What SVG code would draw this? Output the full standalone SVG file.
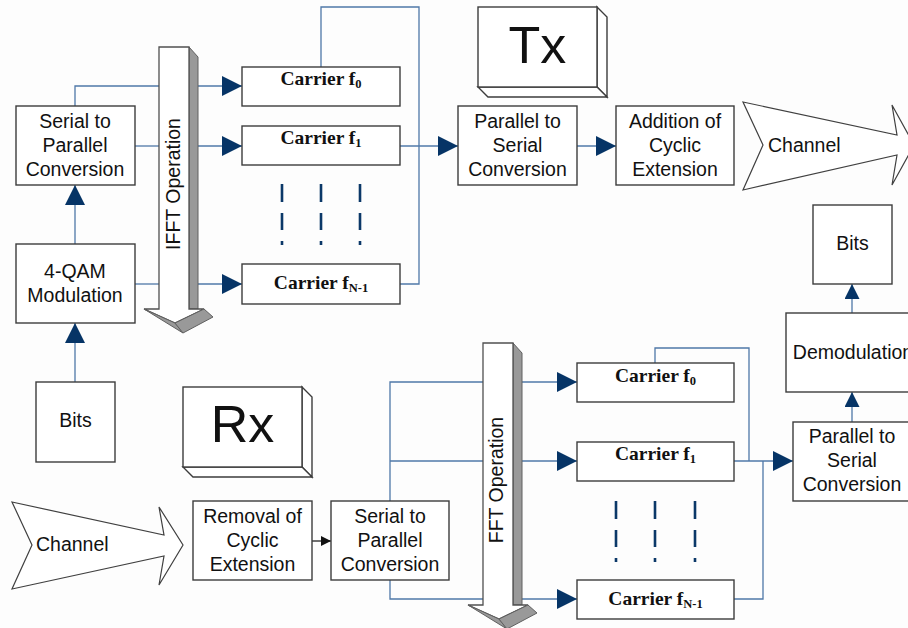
<svg xmlns="http://www.w3.org/2000/svg" width="908" height="628" viewBox="0 0 908 628">
<style>
.box{fill:#fff;stroke:#3c3c3c;stroke-width:1.4}
.t{font-family:"Liberation Sans",Arial,sans-serif;font-size:19.5px;fill:#111;text-anchor:middle}
.tl{font-family:"Liberation Sans",Arial,sans-serif;font-size:19.5px;fill:#111}
.big{font-family:"Liberation Sans",Arial,sans-serif;font-size:52px;fill:#111;text-anchor:middle}
.car{font-family:"Liberation Serif","Times New Roman",serif;font-size:19.5px;font-weight:bold;fill:#111;text-anchor:middle}
.sub{font-size:12.5px}
.c{fill:none;stroke:#4f78a8;stroke-width:1.3}
.cb{fill:none;stroke:#111;stroke-width:1.2}
.dash{fill:none;stroke:#0b3868;stroke-width:2.6;stroke-dasharray:18 11 17 11 4}
.front{fill:#fff;stroke:#505050;stroke-width:1.3}
.side{fill:#999;stroke:#606060;stroke-width:1}
.ch{fill:#fff;stroke:#404040;stroke-width:1.2}
</style>
<defs>
<marker id="a20" markerUnits="userSpaceOnUse" viewBox="0 0 20 20" markerWidth="20" markerHeight="20" refX="20" refY="10" orient="auto"><path d="M0,0 L20,10 L0,20 z" fill="#063466"/></marker>
<marker id="a15" markerUnits="userSpaceOnUse" viewBox="0 0 15 15" markerWidth="15" markerHeight="15" refX="15" refY="7.5" orient="auto"><path d="M0,0 L15,7.5 L0,15 z" fill="#063466"/></marker>
<marker id="ab" markerUnits="userSpaceOnUse" viewBox="0 0 10 10" markerWidth="10" markerHeight="10" refX="10" refY="5" orient="auto"><path d="M0,0 L10,5 L0,10 z" fill="#111"/></marker>
</defs>
<rect x="0" y="0" width="908" height="628" fill="#fdfdfd"/>

<g id="connectors">
<path class="c" d="M75,382 V323" marker-end="url(#a20)"/>
<path class="c" d="M75,244 V185" marker-end="url(#a20)"/>
<path class="c" d="M75,106 V86 H159"/>
<path class="c" d="M135,146 H159"/>
<path class="c" d="M135,284 H159"/>
<path class="c" d="M198,86 H242" marker-end="url(#a20)"/>
<path class="c" d="M198,146 H242" marker-end="url(#a20)"/>
<path class="c" d="M198,284 H242" marker-end="url(#a20)"/>
<path class="c" d="M321,67 V7 H419 V284 H400"/>
<path class="c" d="M400,146 H458" marker-end="url(#a20)"/>
<path class="c" d="M577,146 H616" marker-end="url(#a20)"/>
<path class="c" d="M852,313 V284" marker-end="url(#a15)"/>
<path class="c" d="M852,422 V392" marker-end="url(#a15)"/>
<path class="cb" d="M312,541 H331" marker-end="url(#ab)"/>
<path class="c" d="M390,501 V382 H483"/>
<path class="c" d="M390,461 H483"/>
<path class="c" d="M390,580 V599 H483"/>
<path class="c" d="M522,382 H577" marker-end="url(#a20)"/>
<path class="c" d="M522,461 H577" marker-end="url(#a20)"/>
<path class="c" d="M522,599 H577" marker-end="url(#a20)"/>
<path class="c" d="M655,363 V348 H749 V461"/>
<path class="c" d="M734,461 H793" marker-end="url(#a20)"/>
<path class="c" d="M734,599 H763 V461"/>
<path class="dash" d="M282,184 V245 M321,184 V245 M360,184 V245"/>
<path class="dash" d="M616,501 V562 M655,501 V562 M695,501 V562"/>
</g>

<g id="ifft">
<polygon class="side" points="189,47 198,57 198,309 189,309"/>
<polygon class="front" points="159,47 189,47 189,309 204,309 175,323 144,309 159,309"/>
<polygon class="side" points="144,309 175,323 183,333"/>
<polygon class="side" points="175,323 204,309 213,317 183,333"/>
<text class="t" transform="translate(180,184) rotate(-90)">IFFT Operation</text>
</g>

<g id="fft">
<g transform="translate(324,296)">
<polygon class="side" points="189,47 198,57 198,309 189,309"/>
<polygon class="front" points="159,47 189,47 189,309 204,309 175,323 144,309 159,309"/>
<polygon class="side" points="144,309 175,323 183,333"/>
<polygon class="side" points="175,323 204,309 213,317 183,333"/>
</g>
<text class="t" transform="translate(503,480) rotate(-90)">FFT Operation</text>
</g>

<g id="sp-tx">
<rect class="box" x="16" y="106" width="119" height="79"/>
<text class="t" x="75" y="128">Serial to</text>
<text class="t" x="75" y="152">Parallel</text>
<text class="t" x="75" y="176">Conversion</text>
</g>
<g id="qam">
<rect class="box" x="16" y="244" width="119" height="79"/>
<text class="t" x="75" y="278">4-QAM</text>
<text class="t" x="75" y="302">Modulation</text>
</g>
<g id="bits-tx">
<rect class="box" x="36" y="382" width="79" height="80"/>
<text class="t" x="75.5" y="427">Bits</text>
</g>

<g id="c0-tx">
<rect class="box" x="242" y="67" width="158" height="39"/>
<text class="car" x="321" y="85">Carrier f<tspan class="sub" dy="3">0</tspan></text>
</g>
<g id="c1-tx">
<rect class="box" x="242" y="126" width="158" height="39"/>
<text class="car" x="321" y="144">Carrier f<tspan class="sub" dy="3">1</tspan></text>
</g>
<g id="cn-tx">
<rect class="box" x="242" y="264" width="158" height="40"/>
<text class="car" x="321" y="289">Carrier f<tspan class="sub" dy="3">N-1</tspan></text>
</g>

<g id="tx">
<polygon class="box" points="597,7 607,17 607,97 597,87"/>
<polygon class="box" points="478,87 597,87 607,97 488,97"/>
<rect class="box" x="478" y="7" width="119" height="80"/>
<text class="big" x="537.5" y="63">Tx</text>
</g>

<g id="ps-tx">
<rect class="box" x="458" y="106" width="119" height="79"/>
<text class="t" x="517.5" y="128">Parallel to</text>
<text class="t" x="517.5" y="152">Serial</text>
<text class="t" x="517.5" y="176">Conversion</text>
</g>
<g id="add-cp">
<rect class="box" x="616" y="106" width="118" height="79"/>
<text class="t" x="675" y="128">Addition of</text>
<text class="t" x="675" y="152">Cyclic</text>
<text class="t" x="675" y="176">Extension</text>
</g>
<g id="channel-tx">
<polygon class="ch" points="743,102 897,135 892,105 914,145 892,185 897,155 743,190 763,145"/>
<text class="tl" x="768" y="152">Channel</text>
</g>

<g id="bits-rx">
<rect class="box" x="813" y="205" width="79" height="79"/>
<text class="t" x="852.5" y="250">Bits</text>
</g>
<g id="demod">
<rect class="box" x="786" y="313" width="134" height="79"/>
<text class="t" x="853" y="359">Demodulation</text>
</g>
<g id="ps-rx">
<rect class="box" x="793" y="422" width="119" height="79"/>
<text class="t" x="852" y="443">Parallel to</text>
<text class="t" x="852" y="467">Serial</text>
<text class="t" x="852" y="491">Conversion</text>
</g>

<g id="rx">
<polygon class="box" points="302,387 312,397 312,477 302,467"/>
<polygon class="box" points="183,467 302,467 312,477 193,477"/>
<rect class="box" x="183" y="387" width="119" height="80"/>
<text class="big" x="242.5" y="442">Rx</text>
</g>

<g id="channel-rx">
<polygon class="ch" points="12,502 164,535 159,507 183,545 159,585 164,556 12,589 32,545"/>
<text class="tl" x="36" y="551">Channel</text>
</g>
<g id="rm-cp">
<rect class="box" x="193" y="501" width="119" height="79"/>
<text class="t" x="252.5" y="523">Removal of</text>
<text class="t" x="252.5" y="547">Cyclic</text>
<text class="t" x="252.5" y="571">Extension</text>
</g>
<g id="sp-rx">
<rect class="box" x="331" y="501" width="118" height="79"/>
<text class="t" x="390" y="523">Serial to</text>
<text class="t" x="390" y="547">Parallel</text>
<text class="t" x="390" y="571">Conversion</text>
</g>

<g id="c0-rx">
<rect class="box" x="577" y="363" width="157" height="39"/>
<text class="car" x="655.5" y="382">Carrier f<tspan class="sub" dy="3">0</tspan></text>
</g>
<g id="c1-rx">
<rect class="box" x="577" y="442" width="157" height="39"/>
<text class="car" x="655.5" y="460">Carrier f<tspan class="sub" dy="3">1</tspan></text>
</g>
<g id="cn-rx">
<rect class="box" x="577" y="580" width="157" height="39"/>
<text class="car" x="655.5" y="605">Carrier f<tspan class="sub" dy="3">N-1</tspan></text>
</g>
</svg>
